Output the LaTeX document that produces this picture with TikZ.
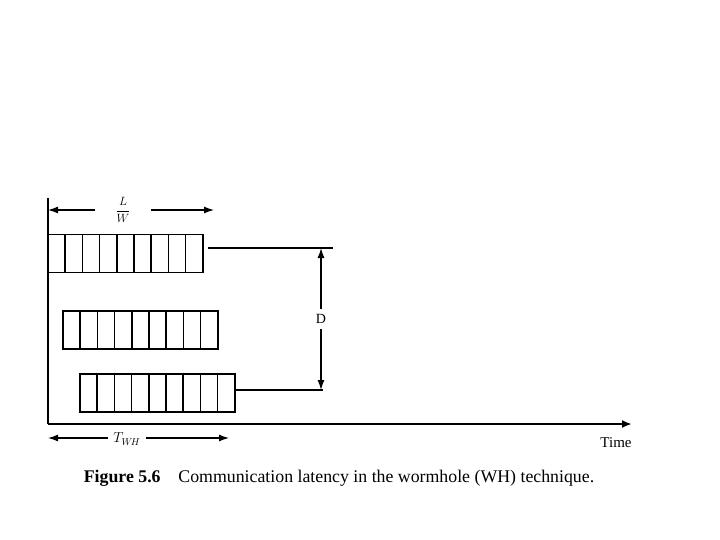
\documentclass[tikz,border=0pt]{standalone}
\usepackage{fontspec}
\setmainfont{Liberation Serif}
\usetikzlibrary{arrows.meta}
\tikzset{
  worm/.style={draw, line width=1.5pt, minimum width=155pt, minimum height=38pt,
    inner sep=0pt, outer sep=0pt, anchor=west},
  tip/.style={-{Latex[length=10pt,width=7pt]}, line width=1.3pt},
  dim/.style={{Latex[length=10pt,width=7pt]}-{Latex[length=10pt,width=7pt]}, line width=1.3pt},
  lab/.style={fill=white, inner sep=1pt, font=\fontsize{14}{16}\selectfont},
}
\begin{document}
\begin{tikzpicture}[x=1pt,y=-1pt]
   \useasboundingbox[fill=white] (0,0) rectangle (720,540);
   % axes
   \coordinate (top) at (48,198);
   \coordinate (o) at (48,424);
   \coordinate (tend) at (632,424);
   \draw[line width=2pt] (top) -- (o);
   \draw[line width=2pt,-{Latex[length=10pt,width=8pt]}] (o) -- (tend);
   \node[font=\fontsize{15}{17}\selectfont] (time) at (616,443) {Time};
   % the three worms of flits
   \foreach \r/\x/\y in {1/48/253.5, 2/63/330, 3/80/393} {
     \node[worm] (w\r) at (\x,\y) {};
     \foreach \i in {1,...,8}
       \draw[line width=1.5pt] ([xshift=\i*17.2pt]w\r.north west) -- ([xshift=\i*17.2pt]w\r.south west);
   }
   % L/W
   \coordinate (lwa) at (48,210);
   \coordinate (lwb) at (214,210);
   \node[lab,font=\fontsize{12}{14}\selectfont,minimum width=55pt] (lw) at (123,210) {$\displaystyle\frac{L}{W}$};
   \draw[tip] (lw.west) -- (lwa);
   \draw[tip] (lw.east) -- (lwb);
   % D
   \coordinate (ha) at (208,248);
   \coordinate (hb) at (333,248);
   \coordinate (hc) at (323,390);
   \coordinate (da) at (321,248);
   \coordinate (db) at (321,390);
   \draw[line width=1.4pt] (ha) -- (hb);
   \draw[line width=1.4pt] (w3.east |- hc) -- (hc);
   \draw[dim] (da) -- node[lab,inner ysep=5pt] (d) {D} (db);
   % T_WH
   \coordinate (ta) at (48,438);
   \coordinate (tb) at (229,438);
   \node[lab,minimum width=37pt] (twh) at (127,439) {$T_{W\!H}$};
   \draw[tip] (twh.west |- ta) -- (ta);
   \draw[tip] (twh.east |- tb) -- (tb);
   % caption
   \node[font=\fontsize{17.8}{20}\selectfont] (cap) at (339,478)
     {\textbf{Figure 5.6}\quad Communication latency in the wormhole (WH) technique.};
\end{tikzpicture}
\end{document}
